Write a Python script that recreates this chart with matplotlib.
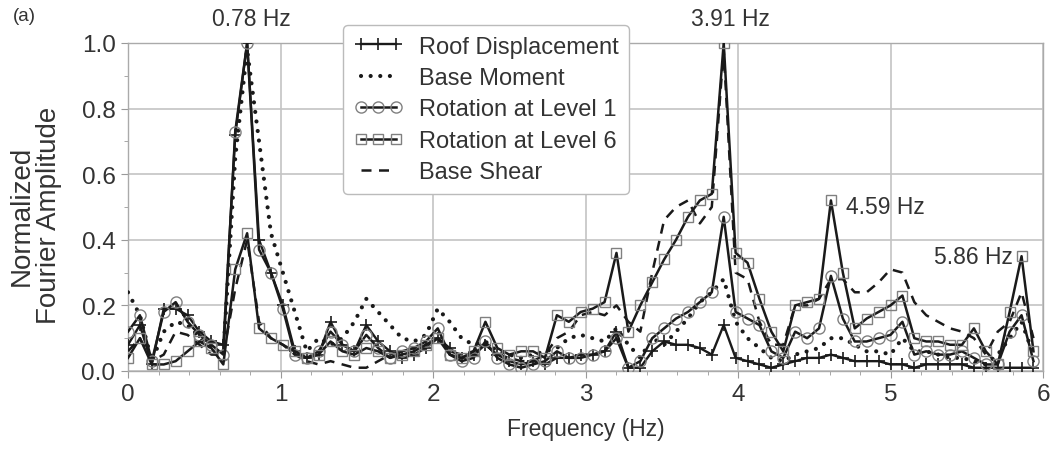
import numpy as np
import matplotlib
matplotlib.use("Agg")
import matplotlib.pyplot as plt
from matplotlib.ticker import MultipleLocator, FormatStrFormatter

plt.rcParams['font.family'] = ['Liberation Sans', 'DejaVu Sans']

df = 0.078125
n_points = 77

roof = [
    0.08, 0.14, 0.02, 0.19, 0.19, 0.17, 0.12, 0.09, 0.08, 0.72,
    1.00, 0.40, 0.30, 0.20, 0.06, 0.04, 0.05, 0.15, 0.08, 0.06,
    0.14, 0.09, 0.06, 0.04, 0.05, 0.07, 0.10, 0.07, 0.04, 0.05,
    0.08, 0.05, 0.03, 0.02, 0.03, 0.02, 0.04, 0.04, 0.05, 0.05,
    0.06, 0.12, 0.01, 0.01, 0.06, 0.09, 0.08, 0.08, 0.07, 0.05,
    0.14, 0.04, 0.03, 0.02, 0.01, 0.02, 0.03, 0.04, 0.04, 0.05,
    0.04, 0.03, 0.03, 0.03, 0.02, 0.02, 0.01, 0.02, 0.02, 0.02,
    0.02, 0.01, 0.01, 0.01, 0.01, 0.01, 0.01]

base_moment = [
    0.24, 0.17, 0.03, 0.12, 0.15, 0.14, 0.10, 0.07, 0.05, 0.65,
    0.98, 0.70, 0.42, 0.30, 0.18, 0.06, 0.10, 0.08, 0.10, 0.15,
    0.22, 0.18, 0.14, 0.10, 0.09, 0.11, 0.19, 0.15, 0.10, 0.08,
    0.09, 0.06, 0.05, 0.04, 0.05, 0.06, 0.07, 0.10, 0.11, 0.10,
    0.09, 0.13, 0.08, 0.04, 0.10, 0.08, 0.12, 0.16, 0.21, 0.24,
    0.28, 0.15, 0.10, 0.07, 0.04, 0.03, 0.05, 0.06, 0.07, 0.10,
    0.10, 0.08, 0.06, 0.06, 0.05, 0.10, 0.06, 0.06, 0.05, 0.04,
    0.04, 0.03, 0.02, 0.05, 0.10, 0.15, 0.05]

level1 = [
    0.12, 0.17, 0.03, 0.18, 0.21, 0.15, 0.11, 0.08, 0.05, 0.73,
    1.00, 0.37, 0.30, 0.19, 0.05, 0.04, 0.06, 0.12, 0.08, 0.06,
    0.11, 0.07, 0.04, 0.06, 0.07, 0.09, 0.13, 0.05, 0.03, 0.04,
    0.09, 0.04, 0.02, 0.01, 0.02, 0.03, 0.06, 0.04, 0.04, 0.05,
    0.06, 0.10, 0.01, 0.03, 0.10, 0.13, 0.16, 0.18, 0.21, 0.24,
    0.47, 0.18, 0.16, 0.14, 0.06, 0.04, 0.12, 0.10, 0.13, 0.29,
    0.16, 0.09, 0.09, 0.10, 0.11, 0.15, 0.05, 0.06, 0.05, 0.05,
    0.06, 0.04, 0.02, 0.02, 0.12, 0.17, 0.03]

level6 = [
    0.04, 0.10, 0.02, 0.02, 0.03, 0.06, 0.09, 0.07, 0.02, 0.31,
    0.42, 0.13, 0.10, 0.08, 0.06, 0.04, 0.05, 0.09, 0.06, 0.05,
    0.07, 0.06, 0.04, 0.05, 0.06, 0.08, 0.10, 0.05, 0.04, 0.06,
    0.15, 0.07, 0.05, 0.06, 0.06, 0.04, 0.17, 0.15, 0.18, 0.19,
    0.21, 0.36, 0.12, 0.20, 0.27, 0.34, 0.40, 0.47, 0.52, 0.54,
    1.00, 0.36, 0.33, 0.22, 0.12, 0.06, 0.20, 0.21, 0.22, 0.52,
    0.30, 0.13, 0.16, 0.18, 0.20, 0.23, 0.10, 0.09, 0.09, 0.08,
    0.08, 0.13, 0.06, 0.02, 0.18, 0.35, 0.06]

base_shear = [
    0.06, 0.10, 0.03, 0.05, 0.12, 0.11, 0.08, 0.05, 0.05, 0.25,
    0.40, 0.15, 0.10, 0.08, 0.05, 0.03, 0.02, 0.03, 0.02, 0.01,
    0.01, 0.03, 0.05, 0.06, 0.07, 0.08, 0.10, 0.06, 0.05, 0.06,
    0.08, 0.05, 0.04, 0.03, 0.03, 0.05, 0.10, 0.12, 0.17, 0.18,
    0.17, 0.20, 0.15, 0.12, 0.30, 0.46, 0.50, 0.52, 0.45, 0.50,
    0.98, 0.30, 0.28, 0.15, 0.08, 0.08, 0.20, 0.20, 0.22, 0.28,
    0.28, 0.24, 0.24, 0.27, 0.31, 0.30, 0.21, 0.17, 0.15, 0.13,
    0.12, 0.10, 0.05, 0.12, 0.15, 0.24, 0.10]

labels = ["Roof Displacement", "Base Moment", "Rotation at Level 1",
          "Rotation at Level 6", "Base Shear"]
peak_labels = ["0.78 Hz", "3.91 Hz", "4.59 Hz", "5.86 Hz"]

freq = np.arange(n_points) * df

fig = plt.figure(figsize=(10.55, 4.56), dpi=100)
ax = fig.add_axes([128 / 1055, 84 / 456, 915 / 1055, 328 / 456])

lc = '#1a1a1a'
mc = '#808080'
tc = '#333333'
ax.plot(freq, roof, color=lc, lw=1.7, marker='+', ms=9, mew=1.2, mec=lc,
        label=labels[0], zorder=4)
ax.plot(freq, base_moment, color=lc, lw=3.0, linestyle=(0, (0.01, 2.3)),
        dash_capstyle='round', label=labels[1], zorder=3)
ax.plot(freq, level1, color=lc, lw=1.8, marker='o', ms=8, mfc='none',
        mec=mc, mew=1.0, label=labels[2], zorder=5)
ax.plot(freq, level6, color=lc, lw=1.8, marker='s', ms=7.5, mfc='none',
        mec=mc, mew=1.0, label=labels[3], zorder=5)
ax.plot(freq, base_shear, color=lc, lw=1.8, linestyle=(0, (4, 3)),
        label=labels[4], zorder=3)

ax.set_xlim(0, 6)
ax.set_ylim(0, 1.0)
ax.xaxis.set_major_locator(MultipleLocator(1))
ax.xaxis.set_minor_locator(MultipleLocator(0.2))
ax.yaxis.set_major_locator(MultipleLocator(0.2))
ax.yaxis.set_minor_locator(MultipleLocator(0.1))
ax.yaxis.set_major_formatter(FormatStrFormatter('%.1f'))
ax.grid(True, which='major', color='#c4c4c4', lw=1.2)
ax.set_axisbelow(True)
for s in ax.spines.values():
    s.set_color('#aaaaaa')
    s.set_linewidth(1.0)
ax.tick_params(which='major', length=5, color='#999999', labelsize=17.5,
               labelcolor=tc, pad=4)
ax.tick_params(which='minor', length=3, color='#999999')

ax.set_xlabel("Frequency (Hz)", fontsize=16.5, color=tc, labelpad=8)
ax.set_ylabel("Normalized\nFourier Amplitude", fontsize=20, color=tc,
              linespacing=1.05)
ax.yaxis.set_label_coords(-0.072, 0.476)

ax.text(0.81, 1.075, peak_labels[0], ha='center', va='center', fontsize=16.5,
        color=tc, clip_on=False)
ax.text(3.95, 1.075, peak_labels[1], ha='center', va='center', fontsize=16.5,
        color=tc, clip_on=False)
ax.text(4.71, 0.50, peak_labels[2], ha='left', va='center', fontsize=16.5,
        color=tc)
ax.text(5.80, 0.35, peak_labels[3], ha='right', va='center', fontsize=16.5,
        color=tc)
fig.text(0.012, 0.963, "(a)", fontsize=13.5, color=tc, va='center')

leg = ax.legend(loc='upper left', bbox_to_anchor=(0.235, 1.055), fontsize=17,
                frameon=True, fancybox=True, edgecolor='#bbbbbb',
                framealpha=1.0, handlelength=2.1, handletextpad=0.65,
                labelspacing=0.4, borderpad=0.45, borderaxespad=0,
                numpoints=3)
leg.get_frame().set_linewidth(1.0)
for t in leg.get_texts():
    t.set_color(tc)

fig.savefig("out.png", dpi=100)
